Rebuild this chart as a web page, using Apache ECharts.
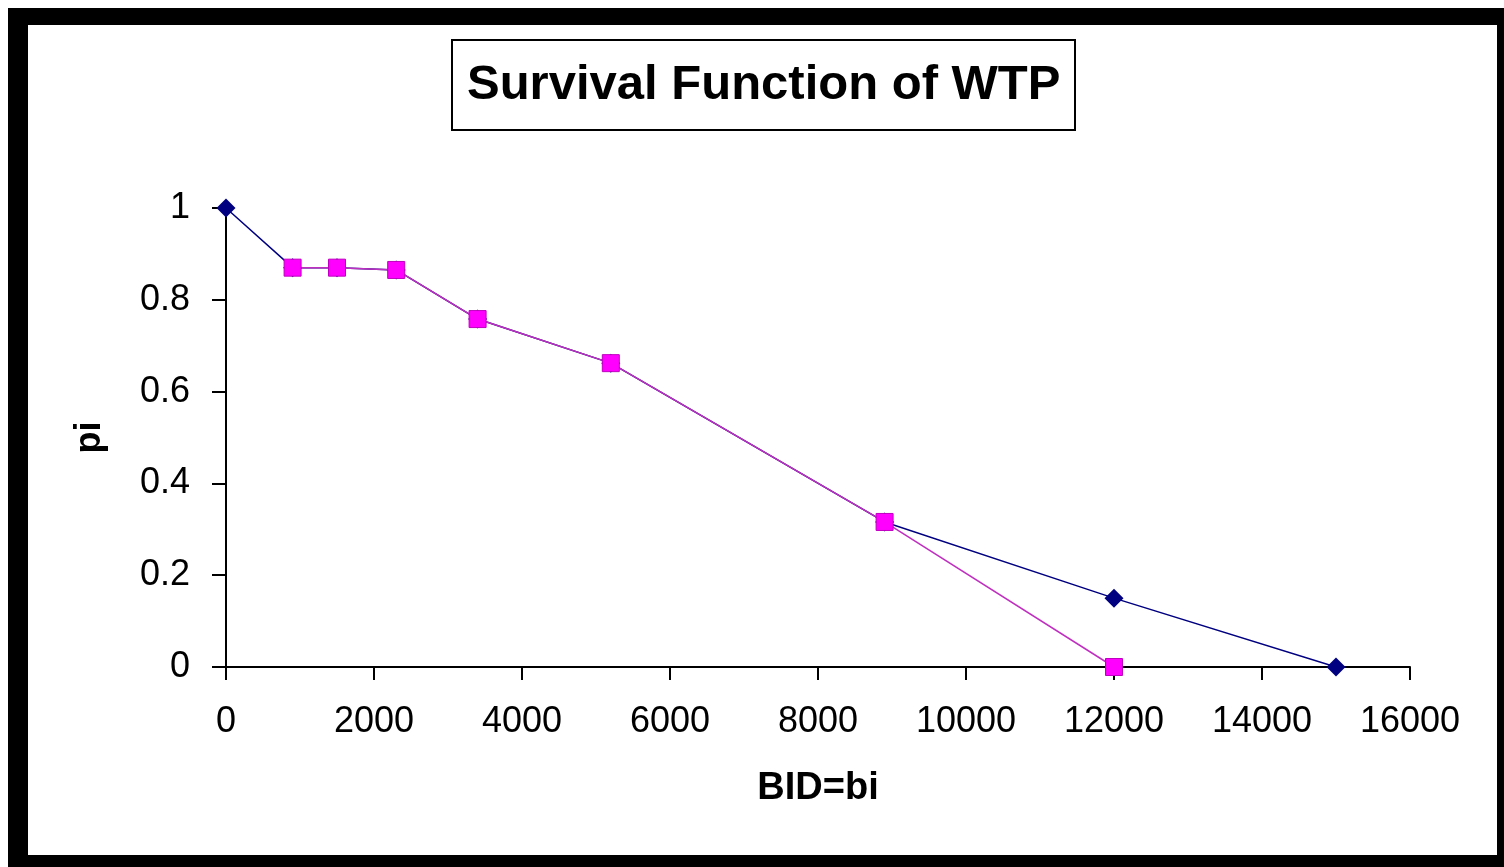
<!DOCTYPE html>
<html>
<head>
<meta charset="utf-8">
<script src="https://cdn.jsdelivr.net/npm/echarts@6/dist/echarts.min.js"></script>
<style>
  html, body { margin: 0; padding: 0; background: #ffffff; }
  #frame { position: absolute; left: 8px; top: 8px; width: 1496px; height: 859px; background: #000000; }
  #inner { position: absolute; left: 28px; top: 25px; width: 1469px; height: 830px; background: #ffffff; }
  #chart { position: absolute; left: 0; top: 0; width: 1504px; height: 867px; }
</style>
</head>
<body>
<div id="frame"></div>
<div id="inner"></div>
<div id="chart"></div>
<script>
// Data
const titleText = 'Survival Function of WTP';
const xAxisName = 'BID=bi';
const yAxisName = 'pi';

// Series 1 (navy, diamonds)
const bidsNavy = [0, 900, 1500, 2300, 3400, 5200, 8900, 12000, 15000];
const pNavy    = [1, 0.87, 0.87, 0.865, 0.758, 0.662, 0.316, 0.15, 0];

// Series 2 (magenta, squares)
const bidsMagenta = [900, 1500, 2300, 3400, 5200, 8900, 12000];
const pMagenta    = [0.87, 0.87, 0.865, 0.758, 0.662, 0.316, 0];

const xMin = 0, xMax = 16000, xStep = 2000;
const yMin = 0, yMax = 1, yStep = 0.2;

const font = "'Liberation Sans', Arial, sans-serif";

const chart = echarts.init(document.getElementById('chart'), null, { renderer: 'canvas' });

chart.setOption({
  backgroundColor: 'transparent',
  animation: false,
  title: {
    text: titleText,
    left: 452,
    top: 40,
    padding: [20, 15, 20, 15],
    borderColor: '#000000',
    borderWidth: 2,
    textStyle: { fontFamily: font, fontSize: 49, fontWeight: 'bold', color: '#000000', lineHeight: 50 }
  },
  grid: { left: 226, right: 94, top: 208, bottom: 200, containLabel: false },
  xAxis: {
    type: 'value',
    min: xMin, max: xMax, interval: xStep,
    name: xAxisName,
    nameLocation: 'middle',
    nameGap: 103,
    nameTextStyle: { fontFamily: font, fontSize: 38, fontWeight: 'bold', color: '#000000' },
    axisLine: { show: true, onZero: false, lineStyle: { color: '#000000', width: 2 } },
    axisTick: { show: true, inside: false, length: 13, lineStyle: { color: '#000000', width: 2 } },
    axisLabel: { margin: 37, fontFamily: font, fontSize: 36, color: '#000000', formatter: v => String(v) },
    splitLine: { show: false }
  },
  yAxis: {
    type: 'value',
    min: yMin, max: yMax, interval: yStep,
    name: yAxisName,
    nameLocation: 'middle',
    nameGap: 118,
    nameRotate: 90,
    nameTextStyle: { fontFamily: font, fontSize: 36, fontWeight: 'bold', color: '#000000' },
    axisLine: { show: true, onZero: false, lineStyle: { color: '#000000', width: 2 } },
    axisTick: { show: true, inside: false, length: 14, lineStyle: { color: '#000000', width: 2 } },
    axisLabel: { margin: 36, fontFamily: font, fontSize: 36, color: '#000000' },
    splitLine: { show: false }
  },
  series: [
    {
      type: 'line',
      data: bidsNavy.map((b, i) => [b, pNavy[i]]),
      symbol: 'diamond',
      symbolSize: 19,
      showAllSymbol: true,
      lineStyle: { color: '#000080', width: 1.5 },
      itemStyle: { color: '#000080' },
      z: 2
    },
    {
      type: 'line',
      data: bidsMagenta.map((b, i) => [b, pMagenta[i]]),
      symbol: 'rect',
      symbolSize: 17,
      showAllSymbol: true,
      lineStyle: { color: '#c030c0', width: 1.5 },
      itemStyle: { color: '#ff00ff', borderColor: '#c000c0', borderWidth: 1 },
      z: 3
    }
  ]
});
</script>
</body>
</html>
